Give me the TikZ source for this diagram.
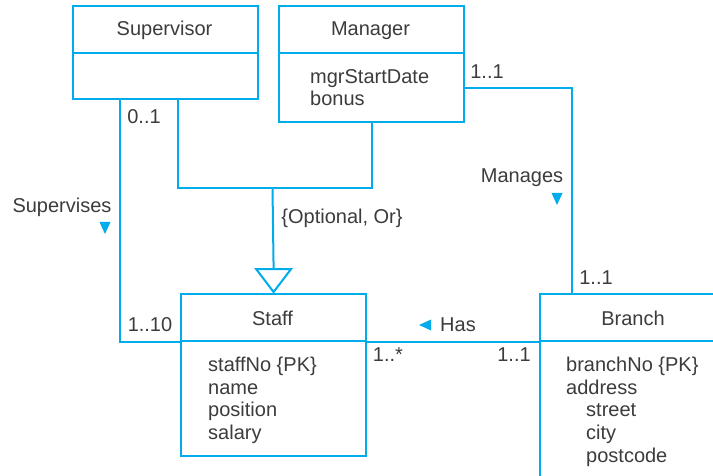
\documentclass[tikz,border=0pt]{standalone}
\usepackage{fontspec}
\setmainfont{Liberation Sans}
\usetikzlibrary{calc}
\definecolor{cy}{RGB}{0,172,236}
\definecolor{tx}{RGB}{60,60,60}
\begin{document}
\begin{tikzpicture}[x=1pt,y=-1pt,
  box/.style={draw=cy,line width=2.2pt,inner sep=0pt,anchor=north west,minimum width=185pt},
  lbl/.style={text=tx,font=\fontsize{20}{23}\selectfont,inner sep=0pt},
  attr/.style={lbl,anchor=base west},
  conn/.style={draw=cy,line width=2pt},
  arrowmark/.style={fill=cy}]
\clip (0,0) rectangle (713,476);
\fill[white] (0,0) rectangle (713,476);
% class boxes
\node[box,minimum height=47pt] (suph) at (72,5) {};
\node[box,minimum height=46pt] (supb) at (72,52) {};
\node[box,minimum height=47pt] (mgrh) at (278,5) {};
\node[box,minimum height=69pt] (mgrb) at (278,52) {};
\node[box,minimum height=47pt] (sth) at (180,293) {};
\node[box,minimum height=115pt] (stb) at (180,340) {};
\node[box,minimum height=47pt,minimum width=200pt] (brh) at (539,293) {};
\node[box,minimum height=160pt,minimum width=200pt] (brb) at (539,340) {};
% class names
\node[lbl] (tsup) at (164.5,30.5) {Supervisor};
\node[lbl] (tmgr) at (370.5,30.5) {Manager};
\node[lbl] (tst) at (272.5,318) {Staff};
\node[lbl] (tbr) at (633,318) {Branch};
% attributes
\node[attr] (m1) at (310,84) {mgrStartDate};
\node[attr] (m2) at (310,106) {bonus};
\node[attr] (s1) at (208,371) {staffNo \{PK\}};
\node[attr] (s2) at (208,394) {name};
\node[attr] (s3) at (208,416) {position};
\node[attr] (s4) at (208,439) {salary};
\node[attr] (b1) at (566,371) {branchNo \{PK\}};
\node[attr] (b2) at (566,394) {address};
\node[attr] (b3) at (586,416) {street};
\node[attr] (b4) at (586,439) {city};
\node[attr] (b5) at (586,462) {postcode};
% connectors
\coordinate (j) at (272.5,188);
\draw[conn] ($(supb.south west)+(48,0)$) |- (sth.south west);
\draw[conn] ($(supb.south west)+(106,0)$) |- (j) -| ($(mgrb.south west)+(94,0)$);
\draw[conn] (j) -- ($(sth.north)+(0,-24)$);
\draw[conn,fill=white] ($(sth.north)+(-17.5,-24)$) -- ($(sth.north)+(17.5,-24)$) -- ($(sth.north)+(0,-1)$) -- cycle;
\draw[conn] (mgrb.east) -| ($(brh.north west)+(33,0)$);
\draw[conn] (sth.south east) -- (brh.south west);
% association labels
\node[lbl] (l01) at (144,117) {0..1};
\node[lbl] (lsup) at (62,207) {Supervises};
\coordinate (asup) at (105,228);
\fill[arrowmark] ($(asup)+(-5.5,-6)$) -- ($(asup)+(5.5,-6)$) -- ($(asup)+(0,6)$) -- cycle;
\node[lbl] (lopt) at (342,218) {\{Optional, Or\}};
\node[lbl] (l110) at (150,325) {1..10};
\node[lbl] (lhas) at (458,325) {Has};
\coordinate (ahas) at (425,325);
\fill[arrowmark] ($(ahas)+(6,-5.5)$) -- ($(ahas)+(6,5.5)$) -- ($(ahas)+(-6,0)$) -- cycle;
\node[lbl] (lmany) at (388,355) {1..*};
\node[lbl] (l11a) at (514,355) {1..1};
\node[lbl] (lman) at (522,178) {Manages};
\coordinate (aman) at (557,199);
\fill[arrowmark] ($(aman)+(-5.5,-6)$) -- ($(aman)+(5.5,-6)$) -- ($(aman)+(0,6)$) -- cycle;
\node[lbl] (l11b) at (487,72) {1..1};
\node[lbl] (l11c) at (596,278) {1..1};
\end{tikzpicture}
\end{document}
